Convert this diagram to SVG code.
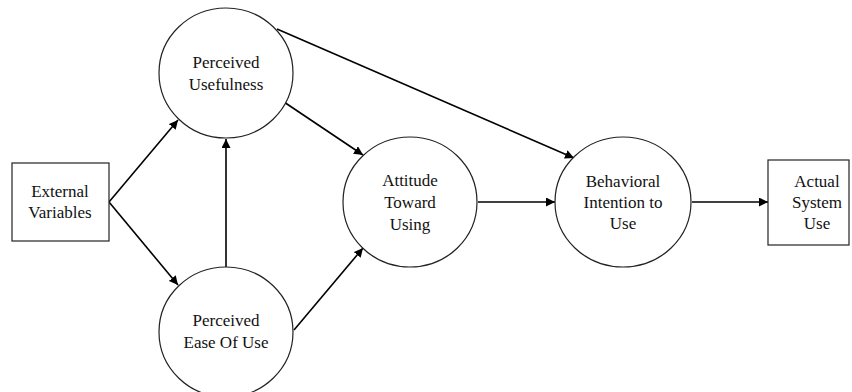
<svg xmlns="http://www.w3.org/2000/svg" width="852" height="392" viewBox="0 0 852 392">
<defs>
<marker id="ah" viewBox="0 0 10 10" refX="10" refY="5" markerWidth="9" markerHeight="9" markerUnits="userSpaceOnUse" orient="auto">
<path d="M0,0 L10,5 L0,10 z" fill="#000"/>
</marker>
<style>
.n{fill:#fff;stroke:#222;stroke-width:1.2}
.t{font-size:17px;fill:#111;text-anchor:middle}
.c line{stroke:#000;stroke-width:1.6;marker-end:url(#ah)}
</style>
</defs>
<rect width="852" height="392" fill="#fff"/>
<g class="c" id="connectors">
<line x1="109" y1="202" x2="178" y2="120"/>
<line x1="109" y1="202" x2="178" y2="285"/>
<line x1="226" y1="267" x2="226" y2="139"/>
<line x1="284" y1="102" x2="363" y2="155"/>
<line x1="294" y1="330" x2="363" y2="248"/>
<line x1="277" y1="29" x2="574" y2="158"/>
<line x1="478" y1="202" x2="555" y2="202"/>
<line x1="692" y1="202" x2="768" y2="202"/>
</g>
<g font-family="'Liberation Serif', 'Times New Roman', 'DejaVu Serif', serif">
<g id="ext"><rect class="n" x="12" y="163" width="97" height="78"/>
<text class="t" x="60" y="197">External</text><text class="t" x="60" y="218">Variables</text></g>
<g id="pu"><ellipse class="n" cx="226" cy="73" rx="67" ry="65"/>
<text class="t" x="226" y="68">Perceived</text><text class="t" x="226" y="90">Usefulness</text></g>
<g id="peu"><ellipse class="n" cx="226" cy="332" rx="67" ry="65"/>
<text class="t" x="226" y="326">Perceived</text><text class="t" x="226" y="348">Ease Of Use</text></g>
<g id="att"><ellipse class="n" cx="410" cy="202" rx="67" ry="65"/>
<text class="t" x="410" y="186">Attitude</text><text class="t" x="410" y="208">Toward</text><text class="t" x="410" y="230">Using</text></g>
<g id="bi"><ellipse class="n" cx="623" cy="202" rx="68" ry="65"/>
<text class="t" x="623" y="187">Behavioral</text><text class="t" x="623" y="208">Intention to</text><text class="t" x="623" y="229">Use</text></g>
<g id="asu"><rect class="n" x="768" y="160" width="81" height="85"/>
<text class="t" x="817" y="187">Actual</text><text class="t" x="817" y="208">System</text><text class="t" x="817" y="229">Use</text></g>
</g>
</svg>
